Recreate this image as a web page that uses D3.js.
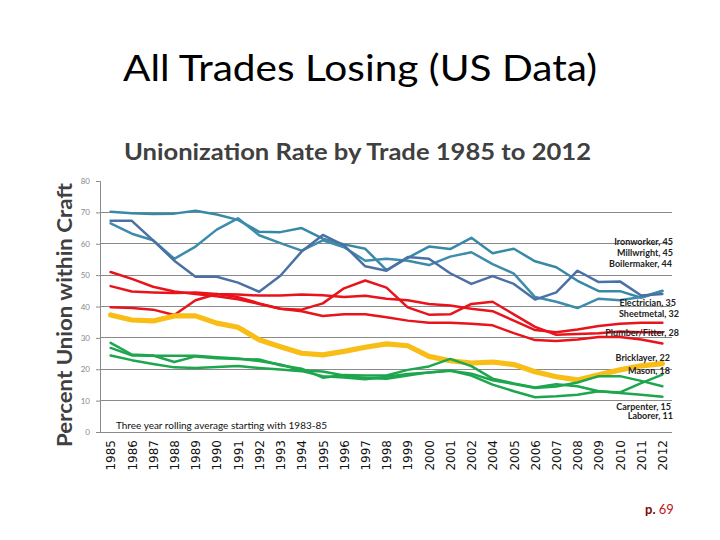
<!DOCTYPE html>
<html>
<head>
<meta charset="utf-8">
<script src="https://cdn.jsdelivr.net/npm/d3@7"></script>
<style>
  html, body { margin: 0; padding: 0; background: #ffffff; }
  svg { display: block; }
</style>
</head>
<body>
<svg id="chart" width="720" height="540"></svg>
<script>
// ---- data ----
const years = ["1985","1986","1987","1988","1989","1990","1991","1992","1993","1994","1995","1996","1997","1998","1999","2000","2001","2002","2004","2005","2006","2007","2008","2009","2010","2011","2012"];
const yTicks = [0,10,20,30,40,50,60,70,80];
const gridTicks = [10,20,30,40,50,60,70];

const ironworker  = [70.2,69.7,69.5,69.6,70.5,69.3,67.6,63.8,63.7,65.0,61.6,59.8,58.4,51.6,55.5,59.1,58.3,61.9,57.0,58.4,54.4,52.5,48.2,44.9,44.9,42.8,44.9];
const millwright  = [66.5,63.2,61.1,55.2,59.1,64.5,68.1,62.7,60.2,57.8,61.1,58.9,54.6,55.2,54.6,53.2,55.9,57.3,53.5,50.5,43.0,41.5,39.5,42.5,42.0,43.0,45.0];
const boilermaker = [67.3,67.3,61.1,54.6,49.5,49.5,47.6,44.7,49.8,57.5,62.8,59.5,52.8,51.4,55.8,55.2,50.6,47.2,49.7,47.2,42.2,44.5,51.4,47.8,48.0,43.5,44.0];
const electrician = [46.5,44.8,44.5,44.3,44.5,44.0,43.8,43.5,43.5,43.8,43.6,43.0,43.4,42.5,42.0,40.8,40.3,39.3,38.5,35.5,32.5,31.8,32.7,33.8,34.5,34.8,34.8];
const sheetmetal  = [39.8,39.5,39.0,37.3,42.0,44.0,43.0,41.0,39.3,39.0,41.0,45.8,48.3,46.0,39.7,37.4,37.5,40.8,41.5,37.5,33.5,31.0,31.2,31.5,32.0,31.8,31.8];
const plumber     = [51.0,48.8,46.3,44.8,44.0,43.3,42.3,40.8,39.3,38.5,37.0,37.5,37.5,36.6,35.5,34.8,34.8,34.5,34.0,31.5,29.3,29.0,29.5,30.3,30.3,29.5,28.2];
const bricklayer  = [37.3,35.7,35.4,37.0,37.0,34.7,33.4,29.4,27.2,25.1,24.6,25.7,27.0,28.1,27.5,24.1,22.7,22.0,22.3,21.5,19.2,17.6,16.6,18.2,19.8,21.1,21.8];
const mason       = [28.4,24.7,24.4,22.3,24.1,23.5,23.3,23.1,21.3,20.2,17.3,18.2,18.0,18.0,19.8,20.9,23.3,21.0,17.0,15.5,14.2,15.2,14.6,13.0,12.6,15.6,18.3];
const carpenter   = [26.8,24.4,24.3,24.3,24.3,23.8,23.4,22.6,21.5,19.6,19.3,18.0,17.2,17.0,18.0,19.0,19.5,18.6,16.5,15.3,14.0,14.5,15.8,17.8,17.8,16.3,14.6];
const laborer     = [24.4,22.9,21.7,20.6,20.4,20.7,21.0,20.4,19.9,19.4,17.8,17.4,16.8,17.6,18.5,19.0,19.6,18.0,15.1,13.0,11.1,11.4,11.9,13.0,12.4,11.9,11.2];

const seriesNames = ["Ironworker","Millwright","Boilermaker","Electrician","Sheetmetal","Plumber/Fitter","Bricklayer","Mason","Carpenter","Laborer"];
const seriesValues = [ironworker, millwright, boilermaker, electrician, sheetmetal, plumber, bricklayer, mason, carpenter, laborer];
const labelTexts = ["Ironworker, 45","Millwright, 45","Boilermaker, 44","Electrician, 35","Sheetmetal, 32","Plumber/Fitter, 28","Bricklayer, 22","Mason, 18","Carpenter, 15","Laborer, 11"];

const mainTitle = "All Trades Losing (US Data)";
const chartTitle = "Unionization Rate by Trade 1985 to 2012";
const yTitle = "Percent Union within Craft";
const note = "Three year rolling average starting with 1983-85";

// ---- styles ----
const colors = ["#3889a6","#3d8cab","#4a70a6","#e8141b","#e8141b","#e8141b","#f8bd16","#1ea64f","#1ea64f","#1ea64f"];
const widths = [2.5,2.5,2.5,2.5,2.5,2.5,5.2,2.5,2.5,2.5];
const drawOrder = [0,1,2,3,4,5,6,7,8,9];

const svg = d3.select("#chart");
const plotL = 100, plotR = 673, plotT = 181, plotB = 432;

const x = d3.scalePoint().domain(years).range([plotL, plotR]).padding(0.5);
const y = d3.scaleLinear().domain([0, 80]).range([plotB, plotT]);

// titles
svg.append("text").attr("x", 360).attr("y", 81).attr("text-anchor", "middle")
  .attr("font-family", "Lato, 'Open Sans', sans-serif").attr("font-size", 36).attr("fill", "#000")
  .attr("textLength", 474).attr("lengthAdjust", "spacingAndGlyphs").text(mainTitle);

svg.append("text").attr("x", 357.5).attr("y", 160).attr("text-anchor", "middle")
  .attr("font-family", "Lato, 'Open Sans', sans-serif").attr("font-size", 22).attr("font-weight", "bold").attr("fill", "#404040")
  .attr("textLength", 467).attr("lengthAdjust", "spacingAndGlyphs").text(chartTitle);

svg.append("text").attr("transform", "translate(72,315) rotate(-90)").attr("text-anchor", "middle")
  .attr("font-family", "Lato, 'Open Sans', sans-serif").attr("font-size", 20).attr("font-weight", "bold").attr("fill", "#404040")
  .attr("textLength", 264).attr("lengthAdjust", "spacingAndGlyphs").text(yTitle);

// gridlines
svg.append("g").selectAll("line").data(gridTicks).join("line")
  .attr("x1", plotL).attr("x2", plotR - 1).attr("y1", d => y(d)).attr("y2", d => y(d))
  .attr("stroke", "#8a8a8a").attr("stroke-width", 1).attr("shape-rendering", "crispEdges");

// y axis
const yAxis = svg.append("g").attr("transform", `translate(${plotL},0)`)
  .call(d3.axisLeft(y).tickValues(yTicks).tickSize(4).tickPadding(6));
yAxis.select(".domain").attr("stroke", "#8a8a8a");
yAxis.selectAll(".tick line").attr("stroke", "#8a8a8a");
yAxis.selectAll("text").attr("font-family", "Lato, sans-serif").attr("font-size", 8).attr("fill", "#888");

// x axis
const xAxis = svg.append("g").attr("transform", `translate(0,${plotB})`)
  .call(d3.axisBottom(x).tickSize(0).tickPadding(0));
xAxis.select(".domain").attr("stroke", "#8a8a8a").attr("d", `M${plotL},0.5H${plotR - 1}`);
xAxis.selectAll(".tick text")
  .attr("font-family", "'DejaVu Sans', Verdana, sans-serif").attr("font-size", 12).attr("fill", "#111")
  .attr("transform", "rotate(-90)").attr("text-anchor", "end").attr("x", -8).attr("y", 0).attr("dy", "0.35em");

// lines
const line = d3.line().x((d, i) => x(years[i])).y(d => y(d));
const g = svg.append("g");
drawOrder.forEach(k => {
  g.append("path").datum(seriesValues[k]).attr("d", line)
    .attr("fill", "none").attr("stroke", colors[k]).attr("stroke-width", widths[k])
    .attr("stroke-linejoin", "round").attr("stroke-linecap", "round");
});

// end labels
const labelPos = [[673,243],[673,253.5],[672,264.5],[676,303.5],[679,314.5],[679,333.5],[670,358.5],[670,372],[671,407.5],[673,417]];
svg.append("g").selectAll("text").data(labelTexts).join("text")
  .attr("x", (d, i) => labelPos[i][0]).attr("y", (d, i) => labelPos[i][1])
  .attr("text-anchor", "end").attr("dominant-baseline", "middle")
  .attr("font-family", "Lato, 'Open Sans', sans-serif").attr("font-size", 9).attr("font-weight", "bold").attr("fill", "#222")
  .text(d => d);

// note
svg.append("text").attr("x", 116).attr("y", 428.5)
  .attr("font-family", "Lato, 'Open Sans', sans-serif").attr("font-size", 10).attr("fill", "#111")
  .attr("textLength", 211).attr("lengthAdjust", "spacingAndGlyphs").text(note);

// page number
const pg = svg.append("text").attr("x", 645).attr("y", 514)
  .attr("font-family", "Lato, 'Open Sans', sans-serif").attr("font-size", 13);
pg.append("tspan").attr("fill", "#7a0a0a").attr("font-weight", "bold").text("p. ");
pg.append("tspan").attr("fill", "#c0141b").text("69");
</script>
</body>
</html>
